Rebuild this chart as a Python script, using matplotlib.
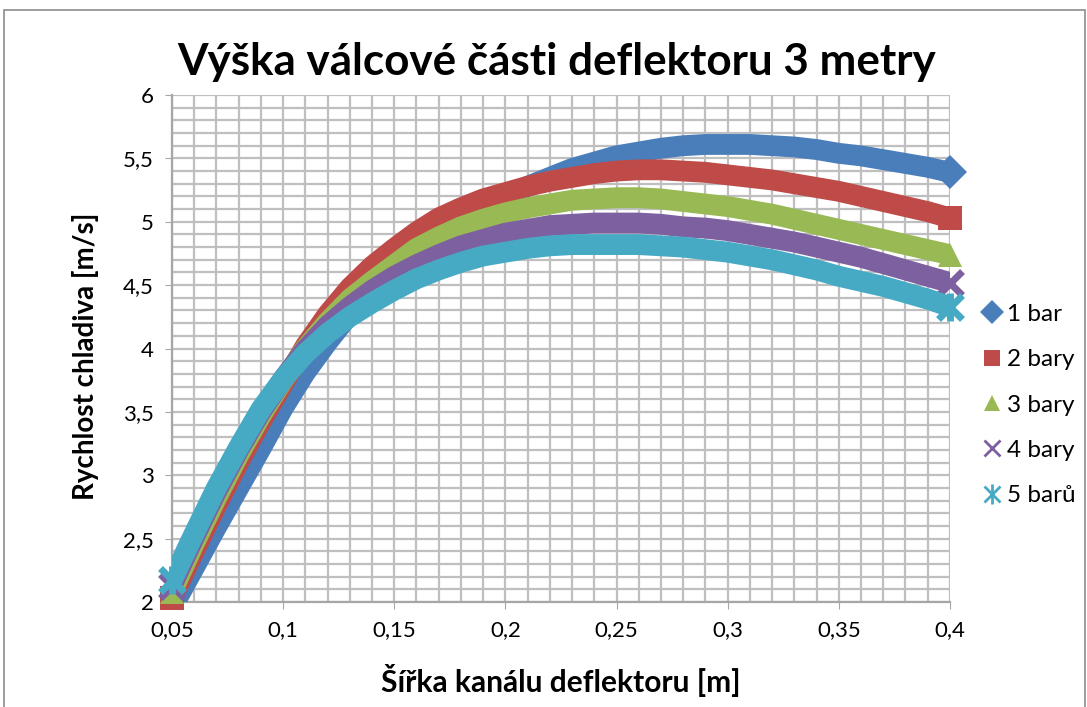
import matplotlib
matplotlib.use('Agg')
import matplotlib.pyplot as plt
from matplotlib.ticker import MultipleLocator, FuncFormatter
from matplotlib.lines import Line2D
from matplotlib.patches import Rectangle
from matplotlib.legend_handler import HandlerTuple

plt.rcParams['font.family'] = ['Lato', 'DejaVu Sans']

# sirka kanalu [m]
x = [0.05, 0.06, 0.07, 0.08, 0.09, 0.10, 0.11, 0.12, 0.13, 0.14,
     0.15, 0.16, 0.17, 0.18, 0.19, 0.20, 0.21, 0.22, 0.23, 0.24,
     0.25, 0.26, 0.27, 0.28, 0.29, 0.30, 0.31, 0.32, 0.33, 0.34,
     0.35, 0.36, 0.37, 0.38, 0.39, 0.40]

# rychlost chladiva [m/s] pro jednotlive tlaky
v_1bar = [1.95, 2.27, 2.59, 2.90, 3.21, 3.53, 3.81, 4.05, 4.27, 4.46,
          4.63, 4.78, 4.91, 5.01, 5.10, 5.19, 5.28, 5.35, 5.42, 5.47,
          5.52, 5.55, 5.58, 5.60, 5.61, 5.61, 5.61, 5.60, 5.59, 5.57,
          5.54, 5.52, 5.49, 5.46, 5.43, 5.39]
v_2bary = [2.03, 2.40, 2.76, 3.10, 3.42, 3.72, 4.02, 4.27, 4.48, 4.65,
           4.79, 4.92, 5.03, 5.11, 5.18, 5.23, 5.28, 5.32, 5.35, 5.38,
           5.40, 5.41, 5.41, 5.40, 5.39, 5.37, 5.35, 5.33, 5.30, 5.27,
           5.24, 5.20, 5.16, 5.12, 5.08, 5.03]
v_3bary = [2.08, 2.46, 2.82, 3.16, 3.47, 3.75, 4.00, 4.21, 4.39, 4.53,
           4.66, 4.79, 4.88, 4.96, 5.02, 5.07, 5.11, 5.14, 5.17, 5.18,
           5.19, 5.19, 5.18, 5.16, 5.14, 5.12, 5.09, 5.06, 5.02, 4.98,
           4.94, 4.90, 4.86, 4.82, 4.78, 4.74]
v_4bary = [2.13, 2.51, 2.87, 3.20, 3.50, 3.76, 3.99, 4.18, 4.33, 4.46,
           4.57, 4.66, 4.74, 4.81, 4.86, 4.91, 4.94, 4.97, 4.98, 4.99,
           4.99, 4.99, 4.98, 4.96, 4.95, 4.93, 4.90, 4.87, 4.84, 4.80,
           4.76, 4.72, 4.67, 4.62, 4.57, 4.52]
v_5baru = [2.17, 2.54, 2.90, 3.22, 3.52, 3.76, 3.96, 4.12, 4.25, 4.36,
           4.46, 4.55, 4.62, 4.68, 4.73, 4.76, 4.79, 4.81, 4.82, 4.82,
           4.82, 4.82, 4.81, 4.80, 4.78, 4.76, 4.73, 4.70, 4.66, 4.62,
           4.57, 4.53, 4.49, 4.44, 4.39, 4.33]

labels = ['1 bar', '2 bary', '3 bary', '4 bary', '5 barů']
colors = ['#4a7ebb', '#be4b48', '#98b954', '#7d60a0', '#46aac5']
markers = ['D', 's', '^', 'x', 'x']
series = [v_1bar, v_2bary, v_3bary, v_4bary, v_5baru]

fig = plt.figure(figsize=(10.87, 7.07), dpi=100)
ax = fig.add_axes([0.1582, 0.1485, 0.7157, 0.7171])

for i, (v, c, m) in enumerate(zip(series, colors, markers)):
    ax.plot(x, v, color=c, lw=15, solid_capstyle='butt',
            solid_joinstyle='round', zorder=3 + i)
    # koncove znacky
    ends = [len(x) - 1] if v[0] < 2 else [0, len(x) - 1]
    ex = [x[j] for j in ends]
    ey = [v[j] for j in ends]
    mew = 5 if m == 'x' else 0
    ax.plot(ex, ey, ls='none', marker=m, ms=17, color=c, mew=mew,
            clip_on=False, zorder=3 + i)
    if i == 4:
        ax.plot(ex, ey, ls='none', marker='|', ms=20, color=c, mew=5,
                clip_on=False, zorder=3 + i)

ax.set_xlim(0.05, 0.4)
ax.set_ylim(2, 6)
ax.xaxis.set_major_locator(MultipleLocator(0.05))
ax.xaxis.set_minor_locator(MultipleLocator(0.01))
ax.yaxis.set_major_locator(MultipleLocator(0.5))
ax.yaxis.set_minor_locator(MultipleLocator(0.1))
fmt = FuncFormatter(lambda val, pos: f'{val:g}'.replace('.', ','))
ax.xaxis.set_major_formatter(fmt)
ax.yaxis.set_major_formatter(fmt)
ax.grid(True, which='both', color='#bfbfbf', lw=1.6, zorder=0)
ax.set_axisbelow(True)
for s in ['top', 'right']:
    ax.spines[s].set_visible(False)
for s in ['left', 'bottom']:
    ax.spines[s].set_color('#a6a6a6')
    ax.spines[s].set_linewidth(1.6)
ax.tick_params(which='major', length=5, color='#a6a6a6', labelsize=16, pad=8)
ax.tick_params(which='minor', length=0)

ax.set_xlabel('Šířka kanálu deflektoru [m]', fontsize=21.5, fontweight='bold', labelpad=17)
ax.set_ylabel('Rychlost chladiva [m/s]', fontsize=20, fontweight='bold', labelpad=14)
ax.yaxis.set_label_coords(-0.094, 0.485)
fig.text(0.512, 0.912, 'Výška válcové části deflektoru 3 metry', ha='center', va='center',
         fontsize=31.7, fontweight='bold')

handles = []
for i, (c, m) in enumerate(zip(colors, markers)):
    h = Line2D([], [], ls='none', marker=m, ms=12, color=c, mew=2 if m == 'x' else 0)
    if i == 4:
        h = (h, Line2D([], [], ls='none', marker='|', ms=14, color=c, mew=2))
    handles.append(h)
fig.legend(handles, labels, loc='center left', bbox_to_anchor=(0.881, 0.427),
           frameon=False, fontsize=17.5, labelspacing=1.0, handlelength=1.0,
           handletextpad=0.12, handler_map={tuple: HandlerTuple(ndivide=1)})

fig.patches.append(Rectangle((4 / 1087, -0.01), 1081 / 1087, 1.0 - 10 / 707 + 0.01,
                             transform=fig.transFigure, fill=False,
                             edgecolor='#8c8c8c', lw=1.2))

fig.savefig('out.png', dpi=100)
